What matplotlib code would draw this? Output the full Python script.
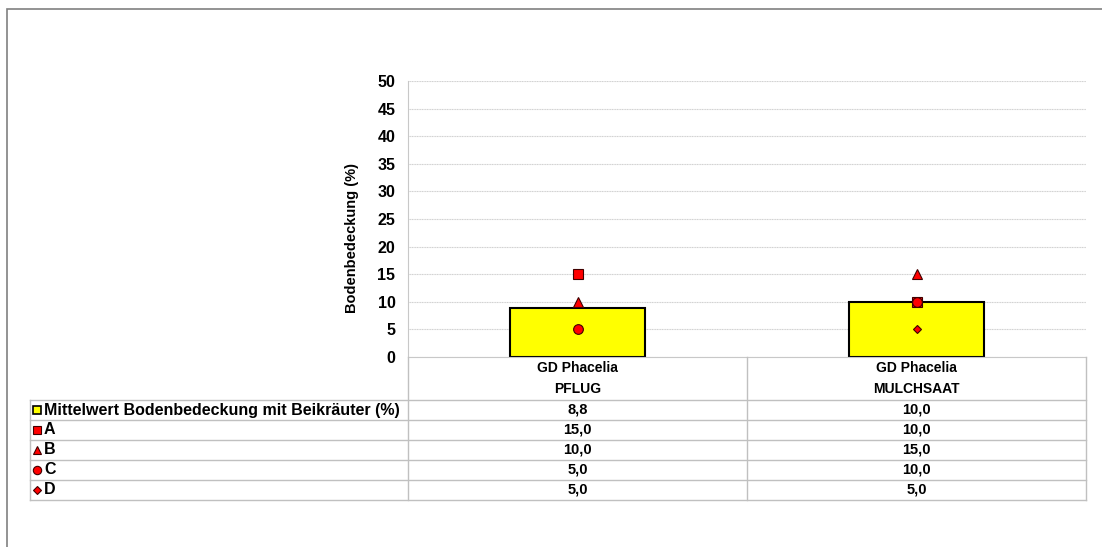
import matplotlib
matplotlib.use("Agg")
import matplotlib.pyplot as plt
from matplotlib.lines import Line2D
from matplotlib.patches import Rectangle

plt.rcParams['font.family'] = ['Liberation Sans', 'DejaVu Sans']
plt.rcParams['font.weight'] = 'bold'

categories = ["GD Phacelia\nPFLUG", "GD Phacelia\nMULCHSAAT"]
mean_label = "Mittelwert Bodenbedeckung mit Beikräuter (%)"
mean_vals = [8.8, 10.0]
series_names = ["A", "B", "C", "D"]
series_vals = [[15.0, 10.0], [10.0, 15.0], [5.0, 10.0], [5.0, 5.0]]
series_markers = ["s", "^", "o", "D"]
yticks = [0, 5, 10, 15, 20, 25, 30, 35, 40, 45, 50]

W, H = 1102, 547
fig = plt.figure(figsize=(W / 100, H / 100), dpi=100)


def fx(px):
    return px / W


def fy(py):
    return 1 - py / H


# outer frame (top and left edges visible)
fig.add_artist(Rectangle((fx(7), fy(560)), 1.2, fy(9) - fy(560), transform=fig.transFigure,
                         fill=False, edgecolor='#808080', lw=1.2))

ax = fig.add_axes([fx(408), fy(357), fx(1086) - fx(408), fy(81) - fy(357)])
x = list(range(len(categories)))
ax.bar(x, mean_vals, width=0.4, color='#ffff00', edgecolor='black', linewidth=1.5, zorder=2)
order = [0, 1, 3, 2]
for i in order:
    ms = 4.5 if series_markers[i] == "D" else 7
    ax.plot(x, series_vals[i], linestyle='none', marker=series_markers[i], markersize=ms,
            markerfacecolor='#ff0000', markeredgecolor='#400000', markeredgewidth=0.8, zorder=3)

ax.set_xlim(-0.5, 1.5)
ax.set_ylim(0, 50)
ax.set_yticks(yticks)
ax.set_yticklabels([str(v) for v in yticks], fontsize=11.5, fontweight='bold')
ax.set_xticks([])
ax.grid(axis='y', color='#d0d0d0', linewidth=0.8, linestyle=(0, (1, 0.5)))
ax.set_axisbelow(True)
for s in ['top', 'right']:
    ax.spines[s].set_visible(False)
ax.spines['left'].set_color('#c8c8c8')
ax.spines['bottom'].set_color('#c8c8c8')
ax.tick_params(axis='y', length=0, pad=9)
ax.set_ylabel("Bodenbedeckung (%)", fontsize=10.5, fontweight='bold')
ax.yaxis.set_label_coords(-0.073, 0.43)

# data table below the chart
grid_c = '#c0c0c0'
col_edges = [408, 747, 1086]
row_edges = [400, 420, 440, 460, 480, 500]
for yy in row_edges:
    fig.add_artist(Line2D([fx(30), fx(1086)], [fy(yy), fy(yy)], color=grid_c, lw=1))
for xx in col_edges:
    fig.add_artist(Line2D([fx(xx), fx(xx)], [fy(357), fy(500)], color=grid_c, lw=1))
fig.add_artist(Line2D([fx(30), fx(30)], [fy(400), fy(500)], color=grid_c, lw=1))

for j, cat in enumerate(categories):
    cx = (col_edges[j] + col_edges[j + 1]) / 2
    top, bottom = cat.split("\n")
    fig.text(fx(cx), fy(368), top, ha='center', va='center', fontsize=10, fontweight='bold')
    fig.text(fx(cx), fy(389), bottom, ha='center', va='center', fontsize=10, fontweight='bold')

rows = [(mean_label, mean_vals, 's', '#ffff00', 'black')]
for name, vals, mk in zip(series_names, series_vals, series_markers):
    rows.append((name, vals, mk, '#ff0000', '#400000'))

for r, (name, vals, mk, fc, ec) in enumerate(rows):
    cy = (row_edges[r] + row_edges[r + 1]) / 2
    ms = 4 if mk == "D" else 6
    fig.add_artist(Line2D([fx(37)], [fy(cy)], marker=mk, markersize=ms, markerfacecolor=fc,
                          markeredgecolor=ec, markeredgewidth=0.8 if r else 1.2, linestyle='none'))
    fig.text(fx(44), fy(cy), name, ha='left', va='center', fontsize=11.5, fontweight='bold')
    for j, v in enumerate(vals):
        cx = (col_edges[j] + col_edges[j + 1]) / 2
        fig.text(fx(cx), fy(cy), f"{v:.1f}".replace(".", ","), ha='center', va='center',
                 fontsize=10.5, fontweight='bold')

fig.savefig("out.png", dpi=100)
